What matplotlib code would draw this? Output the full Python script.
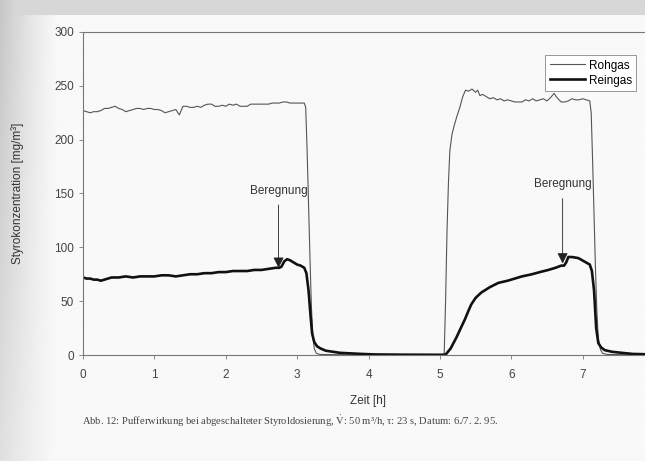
import matplotlib
matplotlib.use("Agg")
import matplotlib.pyplot as plt
import numpy as np

# Rohgas (raw gas) readings, time in h, concentration in mg/m3
t_roh = [0.00, 0.05, 0.10, 0.15, 0.20, 0.25, 0.30, 0.35, 0.40, 0.45,
         0.50, 0.55, 0.60, 0.65, 0.70, 0.75, 0.80, 0.85, 0.90, 0.95,
         1.00, 1.05, 1.10, 1.15, 1.20, 1.25, 1.30, 1.35, 1.40, 1.45,
         1.50, 1.55, 1.60, 1.65, 1.70, 1.75, 1.80, 1.85, 1.90, 1.95,
         2.00, 2.05, 2.10, 2.15, 2.20, 2.25, 2.30, 2.35, 2.40, 2.45,
         2.50, 2.55, 2.60, 2.65, 2.70, 2.75, 2.80, 2.85, 2.90, 2.95,
         3.00, 3.05, 3.10, 3.12, 3.14, 3.16, 3.18, 3.20, 3.22, 3.24,
         3.27, 3.32, 3.60, 4.00, 5.06, 5.08, 5.10, 5.12, 5.14, 5.17,
         5.20, 5.24, 5.28, 5.32, 5.36, 5.40, 5.45, 5.50, 5.53, 5.56,
         5.60, 5.65, 5.70, 5.75, 5.80, 5.85, 5.90, 5.95, 6.00, 6.05,
         6.10, 6.15, 6.20, 6.25, 6.30, 6.35, 6.40, 6.45, 6.50, 6.55,
         6.60, 6.63, 6.67, 6.70, 6.75, 6.80, 6.85, 6.90, 6.95, 7.00,
         7.05, 7.10, 7.12, 7.14, 7.16, 7.18, 7.20, 7.22, 7.25, 7.28,
         7.35, 8.00]
c_roh = [227, 226, 225, 226, 226, 227, 229, 229, 230, 231,
         229, 228, 226, 227, 228, 229, 229, 228, 229, 229,
         228, 228, 227, 225, 226, 227, 228, 223, 231, 231,
         230, 230, 231, 230, 232, 233, 233, 231, 231, 232,
         231, 233, 232, 233, 231, 231, 231, 233, 233, 233,
         233, 233, 233, 234, 234, 234, 235, 235, 234, 234,
         234, 234, 234, 230, 190, 140, 90, 45, 18, 6,
         1.5, 0.5, 0.3, 0, 0, 50, 115, 160, 190, 205,
         213, 222, 230, 240, 246, 245, 247, 244, 246, 241,
         242, 240, 238, 239, 237, 238, 236, 237, 236, 235,
         235, 235, 237, 236, 238, 236, 237, 238, 236, 239,
         243, 240, 237, 235, 235, 236, 238, 237, 237, 238,
         237, 236, 225, 180, 130, 80, 40, 15, 5, 1.5,
         0.5, 0]

# Reingas (clean gas) readings
t_rein = [0.00, 0.05, 0.10, 0.15, 0.20, 0.25, 0.30, 0.35, 0.40, 0.50,
          0.60, 0.70, 0.80, 0.90, 1.00, 1.10, 1.20, 1.30, 1.40, 1.50,
          1.60, 1.70, 1.80, 1.90, 2.00, 2.10, 2.20, 2.30, 2.40, 2.50,
          2.60, 2.70, 2.75, 2.78, 2.82, 2.86, 2.90, 2.95, 3.00, 3.05,
          3.10, 3.13, 3.16, 3.19, 3.21, 3.24, 3.28, 3.33, 3.40, 3.50,
          3.60, 3.75, 3.90, 4.10, 4.50, 5.00, 5.08, 5.15, 5.23, 5.30,
          5.35, 5.40, 5.44, 5.50, 5.58, 5.70, 5.82, 5.95, 6.05, 6.15,
          6.29, 6.40, 6.52, 6.62, 6.70, 6.74, 6.77, 6.80, 6.85, 6.94,
          7.02, 7.10, 7.13, 7.16, 7.19, 7.22, 7.26, 7.31, 7.41, 7.55,
          7.70, 8.00]
c_rein = [72, 71, 71, 70, 70, 69, 70, 71, 72, 72,
          73, 72, 73, 73, 73, 74, 74, 73, 74, 75,
          75, 76, 76, 77, 77, 78, 78, 78, 79, 79,
          80, 81, 81, 82, 87, 89, 88, 86, 84, 83,
          81, 76, 60, 35, 20, 12, 8, 6, 4, 3,
          2, 1.5, 1, 0.5, 0.3, 0.2, 0.3, 6, 16, 26,
          33, 41, 47, 53, 58, 63, 67, 69, 71, 73,
          75, 77, 79, 81, 83, 83, 86, 91, 91, 90,
          87, 84, 78, 60, 25, 11, 7, 4.5, 3, 2,
          1, 0.5]

# Beregnung markers: (time, level at tip, text level)
marks_t = [2.74, 6.72]
marks_tip = [81, 85]
marks_txt = [147, 153]

plt.rcParams["mathtext.fontset"] = "stix"

fig = plt.figure(figsize=(6.45, 4.61), dpi=100)

# scanned page shading
bg = fig.add_axes([0, 0, 1, 1], zorder=-10)
xx, yy = np.meshgrid(np.linspace(0, 645, 645), np.linspace(0, 461, 461))
shade = np.clip(1 - xx / 60.0, 0, 1) ** 1.3 * (0.20 - 0.10 * yy / 461)
page = 0.975 - shade
page[yy < 16] = np.minimum(page[yy < 16], 0.84)
bg.imshow(page, cmap="gray", vmin=0, vmax=1, aspect="auto",
          extent=[0, 645, 461, 0], interpolation="bilinear")
bg.axis("off")

ax = fig.add_axes([83 / 645, 106 / 461, 571 / 645, 323 / 461])
ax.patch.set_alpha(0)

ax.plot(t_roh, c_roh, color="#555555", lw=0.8, label="Rohgas")
ax.plot(t_rein, c_rein, color="#111111", lw=1.9, label="Reingas")

for t, tip, txt in zip(marks_t, marks_tip, marks_txt):
    ax.annotate("Beregnung", xy=(t, tip), xytext=(t, txt),
                ha="center", va="bottom", fontsize=8.5, color="#333333",
                family="Liberation Sans",
                arrowprops=dict(arrowstyle="-|>", color="#222222", lw=0.6,
                                mutation_scale=16, shrinkA=4, shrinkB=0))

ax.set_xlim(0, 8)
ax.set_ylim(0, 300)
ax.set_xticks(range(0, 9))
ax.set_xticklabels([str(i) for i in range(0, 8)] + [""])
ax.set_yticks(range(0, 301, 50))
ax.tick_params(direction="out", length=3, width=0.6, colors="#777777",
               labelsize=8.5, labelcolor="#444444")
for lab in ax.get_xticklabels() + ax.get_yticklabels():
    lab.set_family("Liberation Sans")
ax.tick_params(axis="x", pad=7)
for s in ax.spines.values():
    s.set_color("#777777")
    s.set_linewidth(0.8)

ax.set_xlabel("Zeit [h]", fontsize=8.5, color="#333333",
              family="Liberation Sans", labelpad=10)
fig.text(18 / 645, 1 - 193 / 461, "Styrokonzentration [mg/m³]", rotation=90,
         ha="center", va="center", fontsize=8.5, color="#333333",
         family="Liberation Sans")

leg = ax.legend(loc="upper left", bbox_to_anchor=(539 / 645, 1 - 49 / 461),
                bbox_transform=fig.transFigure, fancybox=False,
                framealpha=1, edgecolor="#888888", handlelength=3.0,
                borderpad=0.4, labelspacing=0.25, handletextpad=0.3,
                prop={"family": "Liberation Sans", "size": 8.5})
leg.get_frame().set_linewidth(0.6)

fig.text(82 / 645, 1 - 421 / 461,
         "Abb. 12: Pufferwirkung bei abgeschalteter Styroldosierung, "
         "$\\dot{\\mathrm{V}}$: 50 m³/h, τ: 23 s, Datum: 6./7. 2. 95.",
         ha="left", va="center", fontsize=7.6, color="#444444",
         family="Liberation Serif")

fig.savefig("out.png", dpi=100)
